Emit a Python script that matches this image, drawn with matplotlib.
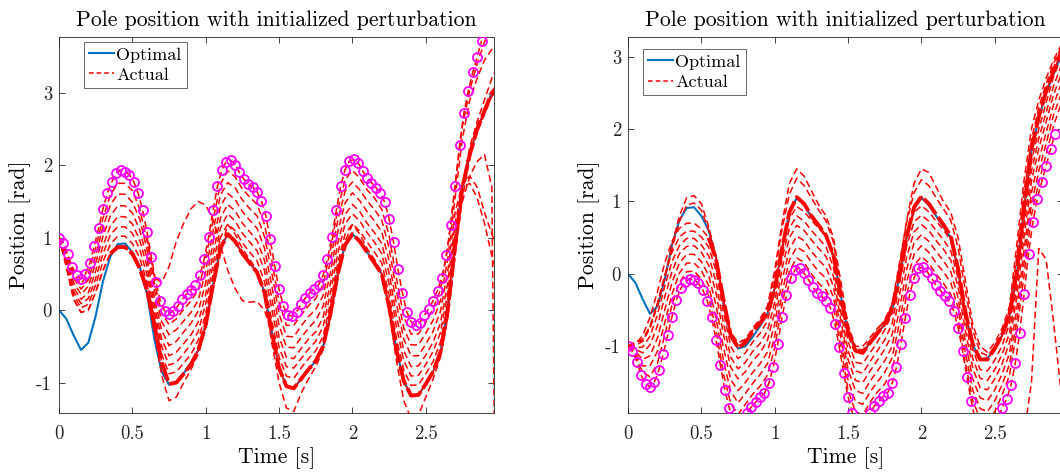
import numpy as np
import matplotlib
matplotlib.use('Agg')
import matplotlib.pyplot as plt
from matplotlib.ticker import FormatStrFormatter
from matplotlib.lines import Line2D

plt.rcParams['font.family'] = ['cmr10', 'DejaVu Serif']
plt.rcParams['axes.unicode_minus'] = False
plt.rcParams['mathtext.fontset'] = 'cm'

# %% data
# time grid of the simulated trajectories (s)
t_line = np.round(np.arange(61) * 0.05, 2)

# optimal trajectory (same in both panels)
y_opt = [0.00, -0.12, -0.35, -0.55, -0.45, -0.08, 0.40, 0.74, 0.91, 0.92,
         0.80, 0.60, 0.22, -0.40, -0.85, -1.03, -1.00, -0.87, -0.72, -0.55,
         -0.20, 0.35, 0.85, 1.05, 0.95, 0.78, 0.65, 0.52, 0.25, -0.30,
         -0.80, -1.05, -1.08, -0.95, -0.82, -0.70, -0.50, -0.05, 0.50, 0.90,
         1.05, 0.95, 0.80, 0.65, 0.50, 0.05, -0.55, -0.98, -1.18, -1.17,
         -1.02, -0.85, -0.58, 0.00, 0.90, 1.70, 2.15, 2.50, 2.75, 3.00,
         3.12]

# ---- left panel: perturbation +1 rad
circ_left = [1.00, 0.93, 0.77, 0.60, 0.48, 0.43, 0.50, 0.65, 0.88, 1.13,
             1.40, 1.62, 1.77, 1.89, 1.93, 1.91, 1.87, 1.77, 1.61, 1.38,
             1.08, 0.73, 0.39, 0.13, -0.01, -0.05, -0.01, 0.06, 0.15, 0.22,
             0.28, 0.35, 0.48, 0.71, 1.01, 1.38, 1.71, 1.94, 2.05, 2.07,
             2.01, 1.90, 1.81, 1.74, 1.70, 1.63, 1.51, 1.30, 0.98, 0.61,
             0.29, 0.055, -0.07, -0.08, -0.02, 0.08, 0.17, 0.24, 0.29, 0.35,
             0.48, 0.71, 1.01, 1.38, 1.71, 1.94, 2.06, 2.08, 2.03, 1.92,
             1.83, 1.76, 1.69, 1.62, 1.49, 1.26, 0.94, 0.57, 0.24, -0.02,
             -0.16, -0.21, -0.175, -0.07, 0.02, 0.13, 0.27, 0.45, 0.76, 1.18,
             1.72, 2.28, 2.72, 3.03, 3.28, 3.49, 3.72]
t_circ_left = np.arange(len(circ_left)) * 0.03

bundle_left = [1.00, 0.60, 0.15, -0.03, 0.00, 0.25, 0.55, 0.78, 0.87, 0.87,
               0.78, 0.58, 0.28, -0.20, -0.72, -1.02, -1.00, -0.88, -0.75, -0.55,
               -0.20, 0.35, 0.85, 1.05, 0.95, 0.78, 0.65, 0.52, 0.25, -0.30,
               -0.80, -1.05, -1.08, -0.95, -0.82, -0.70, -0.50, -0.05, 0.50, 0.90,
               1.05, 0.95, 0.80, 0.65, 0.50, 0.05, -0.55, -0.98, -1.18, -1.17,
               -1.02, -0.85, -0.58, 0.00, 0.90, 1.70, 2.15, 2.50, 2.75, 3.00,
               3.12]
low_left = [1.00, 0.60, 0.15, -0.03, 0.00, 0.25, 0.55, 0.78, 0.87, 0.86,
            0.76, 0.55, 0.22, -0.30, -0.90, -1.25, -1.20, -1.00, -0.82, -0.60,
            -0.25, 0.30, 0.80, 1.18, 1.05, 0.85, 0.70, 0.55, 0.20, -0.45,
            -1.00, -1.35, -1.40, -1.15, -0.95, -0.78, -0.55, -0.10, 0.45, 0.95,
            1.18, 1.05, 0.85, 0.70, 0.52, 0.00, -0.70, -1.25, -1.50, -1.45,
            -1.20, -0.95, -0.65, -0.10, 0.75, 1.55, 2.10, 2.45, 2.70, 2.95,
            3.05]
mid_left = [
    [1.00, 0.80, 0.50, 0.36, 0.51, 0.86, 1.27, 1.59, 1.75, 1.75,
     1.65, 1.40, 0.95, 0.38, -0.04, -0.20, -0.12, 0.01, 0.13, 0.28,
     0.70, 1.24, 1.74, 1.92, 1.84, 1.67, 1.56, 1.46, 1.19, 0.69,
     0.11, -0.21, -0.21, -0.07, 0.06, 0.16, 0.35, 0.83, 1.39, 1.80,
     1.93, 1.82, 1.66, 1.55, 1.39, 1.03, 0.44, -0.09, -0.33, -0.33,
     -0.17, 0.02, 0.28, 0.87, 1.71, 2.54, 3.04, 3.40, 3.70, 3.95,
     4.10],
    [1.00, 0.76, 0.44, 0.29, 0.42, 0.75, 1.15, 1.45, 1.60, 1.60,
     1.49, 1.26, 0.83, 0.28, -0.16, -0.34, -0.27, -0.15, -0.03, 0.14,
     0.54, 1.09, 1.59, 1.76, 1.69, 1.52, 1.40, 1.30, 1.02, 0.52,
     -0.05, -0.36, -0.37, -0.22, -0.09, 0.01, 0.20, 0.68, 1.24, 1.64,
     1.77, 1.66, 1.51, 1.39, 1.24, 0.86, 0.27, -0.25, -0.48, -0.48,
     -0.32, -0.14, 0.13, 0.71, 1.55, 2.37, 2.90, 3.20, 3.45, 3.60,
     3.75],
    [1.00, 0.73, 0.38, 0.22, 0.33, 0.65, 1.02, 1.30, 1.44, 1.44,
     1.34, 1.11, 0.71, 0.17, -0.28, -0.49, -0.43, -0.30, -0.18, -0.01,
     0.38, 0.93, 1.43, 1.61, 1.53, 1.36, 1.24, 1.13, 0.86, 0.34,
     -0.21, -0.51, -0.52, -0.38, -0.25, -0.14, 0.05, 0.52, 1.08, 1.48,
     1.62, 1.51, 1.36, 1.23, 1.08, 0.68, 0.09, -0.40, -0.63, -0.63,
     -0.47, -0.29, -0.02, 0.54, 1.35, 1.75, 1.85, 1.70, 1.35, 1.05,
     0.80],
    [1.00, 0.69, 0.31, 0.15, 0.24, 0.54, 0.89, 1.16, 1.29, 1.29,
     1.19, 0.97, 0.60, 0.07, -0.40, -0.63, -0.58, -0.46, -0.34, -0.16,
     0.22, 0.77, 1.27, 1.46, 1.37, 1.20, 1.08, 0.96, 0.69, 0.17,
     -0.37, -0.65, -0.67, -0.53, -0.40, -0.30, -0.10, 0.37, 0.92, 1.32,
     1.46, 1.36, 1.20, 1.07, 0.92, 0.51, -0.08, -0.56, -0.78, -0.77,
     -0.62, -0.44, -0.18, 0.38, 1.20, 1.70, 1.75, 1.55, 1.20, 0.75,
     0.40],
    [1.00, 0.66, 0.26, 0.09, 0.16, 0.44, 0.78, 1.04, 1.15, 1.15,
     1.06, 0.84, 0.49, -0.02, -0.50, -0.76, -0.72, -0.60, -0.47, -0.29,
     0.09, 0.63, 1.13, 1.33, 1.23, 1.06, 0.94, 0.82, 0.55, 0.02,
     -0.51, -0.78, -0.80, -0.67, -0.54, -0.43, -0.23, 0.23, 0.78, 1.19,
     1.33, 1.23, 1.07, 0.94, 0.78, 0.36, -0.23, -0.70, -0.91, -0.90,
     -0.75, -0.57, -0.31, 0.24, 1.10, 1.50, 1.85, 2.05, 2.15, 1.70,
     -8.00],
    [1.00, 0.63, 0.21, 0.03, 0.08, 0.35, 0.67, 0.91, 1.02, 1.02,
     0.92, 0.72, 0.39, -0.10, -0.61, -0.88, -0.85, -0.73, -0.61, -0.41,
     -0.05, 0.50, 1.00, 1.19, 1.10, 0.93, 0.80, 0.68, 0.40, -0.14,
     -0.65, -0.91, -0.94, -0.80, -0.67, -0.56, -0.36, 0.10, 0.65, 1.05,
     1.19, 1.09, 0.94, 0.80, 0.65, 0.21, -0.39, -0.83, -1.04, -1.03,
     -0.88, -0.71, -0.44, 0.10, 0.95, 1.70, 2.25, 2.60, 2.90, 3.20,
     3.40],
]
# the odd run that overshoots around t = 1 s
t_odd = [0.60, 0.65, 0.70, 0.75, 0.80, 0.85, 0.90, 0.95, 1.00, 1.05,
         1.10, 1.15, 1.20, 1.25, 1.30, 1.35, 1.40, 1.45]
odd_left = [1.00, 0.45, 0.38, 0.60, 0.95, 1.20, 1.40, 1.50, 1.45, 1.25,
            0.90, 0.55, 0.30, 0.13, 0.11, 0.12, 0.00, -0.30]

# ---- right panel: perturbation -1 rad
circ_right = [-1.00, -1.065, -1.21, -1.40, -1.52, -1.56, -1.49, -1.33, -1.11, -0.85,
              -0.59, -0.36, -0.20, -0.11, -0.07, -0.08, -0.13, -0.22, -0.37, -0.60,
              -0.91, -1.26, -1.60, -1.85, -2.05, -2.10, -2.05, -1.92, -1.84, -1.77,
              -1.70, -1.65, -1.51, -1.29, -0.97, -0.60, -0.29, -0.05, 0.06, 0.08,
              0.01, -0.08, -0.18, -0.27, -0.31, -0.37, -0.47, -0.69, -1.01, -1.37,
              -1.70, -1.92, -2.06, -2.10, -2.06, -1.92, -1.82, -1.76, -1.69, -1.64,
              -1.51, -1.29, -0.97, -0.61, -0.285, -0.05, 0.08, 0.09, 0.03, -0.06,
              -0.16, -0.23, -0.30, -0.38, -0.51, -0.74, -1.06, -1.42, -1.76, -2.05,
              -2.17, -2.22, -2.20, -2.12, -2.02, -1.85, -1.73, -1.54, -1.23, -0.81,
              -0.28, 0.28, 0.72, 1.04, 1.27, 1.49, 1.72, 1.93]
t_circ_right = np.arange(len(circ_right)) * 0.03

bundle_right = [-1.00, -0.97, -0.85, -0.60, -0.25, 0.15, 0.45, 0.63, 0.70, 0.70,
                0.62, 0.50, 0.20, -0.35, -0.85, -1.02, -0.95, -0.80, -0.68, -0.55,
                -0.20, 0.35, 0.85, 1.06, 0.97, 0.80, 0.67, 0.53, 0.26, -0.30,
                -0.80, -1.06, -1.09, -0.95, -0.82, -0.69, -0.48, -0.03, 0.52, 0.92,
                1.07, 0.97, 0.82, 0.68, 0.52, 0.07, -0.53, -0.97, -1.18, -1.18,
                -1.03, -0.85, -0.57, 0.02, 0.92, 1.72, 2.17, 2.52, 2.80, 3.05,
                3.20]
top_right = [-1.00, -0.93, -0.93, -0.75, -0.45, -0.05, 0.40, 0.80, 1.05, 1.08,
             0.97, 0.65, 0.25, -0.35, -0.80, -0.95, -0.90, -0.75, -0.62, -0.45,
             0.05, 0.70, 1.25, 1.45, 1.35, 1.15, 0.95, 0.80, 0.50, -0.10,
             -0.70, -1.00, -1.00, -0.88, -0.75, -0.65, -0.45, 0.10, 0.75, 1.25,
             1.45, 1.40, 1.20, 1.00, 0.85, 0.50, -0.10, -0.70, -1.00, -1.08,
             -0.95, -0.75, -0.45, 0.40, 1.30, 2.00, 2.40, 2.70, 2.95, 3.15,
             3.30]
top2_right = [-1.00, -0.95, -0.90, -0.72, -0.42, -0.05, 0.35, 0.72, 0.95, 0.98,
              0.88, 0.60, 0.22, -0.35, -0.82, -0.98, -0.92, -0.78, -0.65, -0.47,
              -0.02, 0.62, 1.10, 1.32, 1.22, 1.05, 0.88, 0.73, 0.44, -0.18,
              -0.74, -1.03, -1.05, -0.92, -0.78, -0.63, -0.42, 0.15, 0.72, 1.12,
              1.30, 1.22, 1.05, 0.90, 0.74, 0.36, -0.24, -0.78, -1.08, -1.13,
              -1.00, -0.80, -0.50, 0.25, 1.15, 1.85, 2.30, 2.62, 2.90, 3.12,
              3.28]
mid_right = [
    [-1.00, -1.12, -1.36, -1.42, -1.24, -0.85, -0.43, -0.12, 0.03, 0.04,
     -0.07, -0.30, -0.78, -1.37, -1.79, -1.94, -1.80, -1.66, -1.55, -1.40,
     -1.02, -0.42, 0.04, 0.22, 0.16, 0.00, -0.13, -0.22, -0.46, -1.00,
     -1.61, -1.90, -1.95, -1.77, -1.63, -1.52, -1.33, -0.86, -0.28, 0.12,
     0.24, 0.15, 0.00, -0.13, -0.28, -0.62, -1.23, -1.75, -2.00, -2.05,
     -1.90, -1.67, -1.40, -0.79, -0.02, 0.81, 1.26, 1.65, 2.04, 2.34,
     2.53],
    [-1.00, -1.10, -1.27, -1.27, -1.07, -0.68, -0.28, 0.01, 0.15, 0.15,
     0.05, -0.16, -0.61, -1.19, -1.62, -1.78, -1.65, -1.51, -1.39, -1.24,
     -0.86, -0.26, 0.19, 0.37, 0.31, 0.16, 0.03, -0.06, -0.32, -0.87,
     -1.47, -1.76, -1.80, -1.63, -1.49, -1.36, -1.16, -0.68, -0.11, 0.27,
     0.39, 0.30, 0.15, 0.03, -0.12, -0.47, -1.09, -1.60, -1.86, -1.90,
     -1.75, -1.53, -1.25, -0.64, 0.16, 0.97, 1.42, 1.80, 2.19, 2.47,
     2.66],
    [-1.00, -1.07, -1.18, -1.13, -0.89, -0.50, -0.12, 0.15, 0.27, 0.27,
     0.17, -0.02, -0.43, -1.01, -1.46, -1.61, -1.50, -1.36, -1.24, -1.08,
     -0.69, -0.09, 0.34, 0.52, 0.46, 0.31, 0.19, 0.09, -0.17, -0.75,
     -1.32, -1.61, -1.65, -1.48, -1.34, -1.20, -1.00, -0.49, 0.07, 0.43,
     0.54, 0.45, 0.31, 0.18, 0.03, -0.33, -0.94, -1.45, -1.71, -1.75,
     -1.60, -1.38, -1.10, -0.48, 0.34, 1.12, 1.57, 1.95, 2.33, 2.61,
     2.78],
    [-1.00, -1.04, -1.09, -0.98, -0.72, -0.32, 0.03, 0.28, 0.38, 0.39,
     0.30, 0.12, -0.26, -0.83, -1.29, -1.45, -1.35, -1.20, -1.09, -0.92,
     -0.53, 0.07, 0.50, 0.67, 0.60, 0.47, 0.35, 0.24, -0.03, -0.63,
     -1.18, -1.47, -1.50, -1.34, -1.19, -1.04, -0.84, -0.30, 0.24, 0.58,
     0.68, 0.60, 0.46, 0.34, 0.19, -0.18, -0.79, -1.30, -1.57, -1.60,
     -1.45, -1.24, -0.95, -0.32, 0.52, 1.28, 1.73, 2.10, 2.47, 2.74,
     2.91],
    [-1.00, -1.02, -1.01, -0.86, -0.57, -0.17, 0.17, 0.39, 0.49, 0.49,
     0.40, 0.25, -0.11, -0.67, -1.15, -1.31, -1.22, -1.07, -0.96, -0.79,
     -0.39, 0.21, 0.63, 0.80, 0.73, 0.60, 0.49, 0.37, 0.09, -0.52,
     -1.06, -1.34, -1.37, -1.21, -1.06, -0.91, -0.69, -0.14, 0.39, 0.72,
     0.81, 0.73, 0.60, 0.47, 0.32, -0.06, -0.66, -1.17, -1.44, -1.47,
     -1.32, -1.11, -0.82, -0.18, 0.68, 1.42, 1.87, 2.23, 2.59, 2.86,
     3.02],
    [-1.00, -0.99, -0.93, -0.73, -0.41, -0.02, 0.30, 0.51, 0.59, 0.59,
     0.51, 0.37, 0.04, -0.52, -1.00, -1.17, -1.09, -0.94, -0.82, -0.65,
     -0.25, 0.35, 0.76, 0.93, 0.86, 0.74, 0.63, 0.51, 0.22, -0.41,
     -0.93, -1.22, -1.24, -1.09, -0.94, -0.77, -0.55, 0.03, 0.54, 0.85,
     0.94, 0.86, 0.73, 0.61, 0.46, 0.07, -0.54, -1.04, -1.32, -1.34,
     -1.19, -0.99, -0.69, -0.05, 0.83, 1.55, 2.00, 2.36, 2.72, 2.97,
     3.13],
]
t_drop = [2.60, 2.65, 2.70, 2.75, 2.80, 2.85, 2.90, 2.95, 3.00]
drop_right = [-2.40, -2.40, -2.20, -1.50, 0.35, 0.20, -0.65, -1.60, -2.30]

x_ticks = [0, 0.5, 1, 1.5, 2, 2.5]
y_ticks = [-1, 0, 1, 2, 3]

# %% plotting
BLUE = '#0072BD'
RED = '#FF0000'
MAG = '#FF00FF'
AX_COL = '#262626'
DASH = (0, (4.5, 2.5))


def draw_panel(ax, circ_t, circ_y, bundle, thick_from, others, ylim, legend_anchor):
    ax.plot(t_line, y_opt, color=BLUE, lw=1.5, zorder=2)
    for y in others:
        ax.plot(t_line, y, color=RED, lw=1.1, ls=DASH, zorder=3)
    # converged runs pile up into one thick band
    ax.plot(t_line, bundle, color=RED, lw=1.1, ls=DASH, zorder=3)
    ax.plot(t_line[thick_from:], bundle[thick_from:], color=RED, lw=2.8,
            ls=(0, (5, 1)), zorder=4)
    ax.plot(circ_t, circ_y, color=RED, lw=1.1, ls=DASH, zorder=3)
    ax.plot(circ_t, circ_y, ls='none', marker='o', ms=6.5, mfc='none',
            mec=MAG, mew=1.3, zorder=5)

    ax.set_xlim(0, 2.965)
    ax.set_ylim(*ylim)
    ax.set_xticks(x_ticks)
    ax.set_yticks(y_ticks)
    ax.xaxis.set_major_formatter(FormatStrFormatter('%g'))
    ax.yaxis.set_major_formatter(FormatStrFormatter('%g'))
    ax.tick_params(direction='in', top=True, right=True, length=4, width=0.6,
                   color=AX_COL, labelsize=13.5, labelcolor=AX_COL)
    ax.tick_params(axis='x', pad=9)
    ax.tick_params(axis='y', pad=5)
    for s in ax.spines.values():
        s.set_linewidth(0.6)
        s.set_color(AX_COL)
    ax.set_title('Pole position with initialized perturbation', fontsize=15.7,
                 color='black', pad=8)
    ax.set_xlabel('Time [s]', fontsize=15.6, labelpad=3)
    ax.set_ylabel('Position [rad]', fontsize=15.6, labelpad=4)

    handles = [Line2D([], [], color=BLUE, lw=1.5),
               Line2D([], [], color=RED, lw=1.1, ls=(0, (3, 2)))]
    leg = ax.legend(handles, ['Optimal', 'Actual'], loc='upper left',
                    bbox_to_anchor=legend_anchor, fontsize=13, frameon=True,
                    fancybox=False, borderaxespad=0, borderpad=0.3,
                    handlelength=1.4, handletextpad=0.1, labelspacing=0.25)
    leg.get_frame().set_edgecolor(AX_COL)
    leg.get_frame().set_linewidth(0.6)
    leg.set_zorder(10)


fig = plt.figure(figsize=(10.6, 4.74), dpi=100)
ax1 = fig.add_axes([59 / 1060, 1 - 413 / 474, 435 / 1060, 376 / 474])
ax2 = fig.add_axes([628 / 1060, 1 - 413 / 474, 435 / 1060, 376 / 474])

draw_panel(ax1, t_circ_left, circ_left, bundle_left, 7, [low_left] + mid_left,
           (-1.42, 3.77), (0.057, 0.988))
ax1.plot(t_odd, odd_left, color=RED, lw=1.1, ls=DASH, zorder=3)

draw_panel(ax2, t_circ_right, circ_right, bundle_right, 11,
           [top_right, top2_right] + mid_right, (-1.92, 3.27), (0.034, 0.969))
ax2.plot(t_drop, drop_right, color=RED, lw=1.1, ls=DASH, zorder=3)

fig.savefig('out.png', dpi=100)
